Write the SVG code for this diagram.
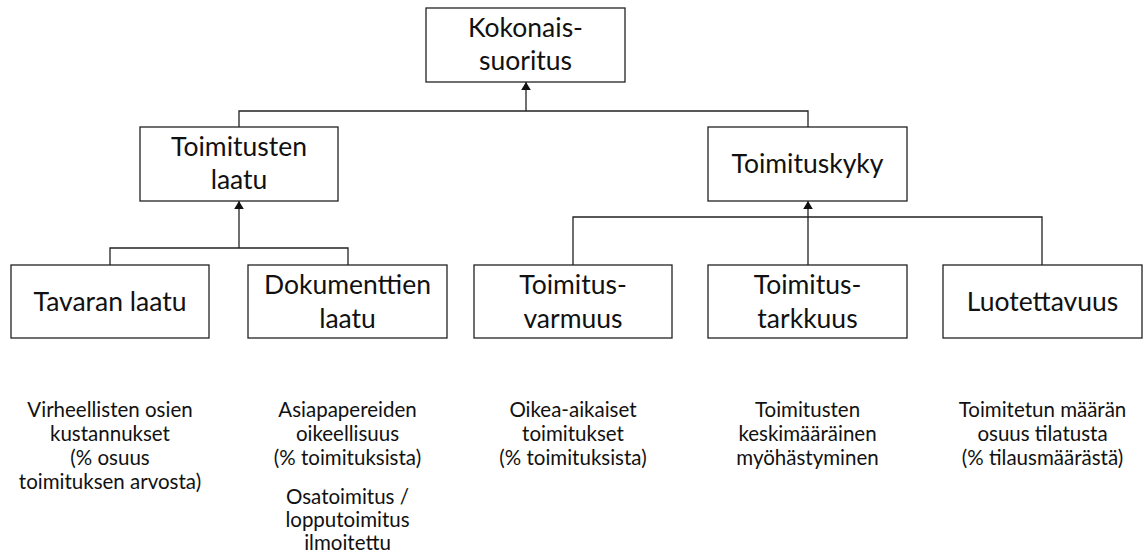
<svg xmlns="http://www.w3.org/2000/svg" width="1143" height="553" viewBox="0 0 1143 553">
  <style>
    .box { fill: #ffffff; stroke: #222222; stroke-width: 1.3; }
    .wire { fill: none; stroke: #222222; stroke-width: 1.3; }
    .lbl { font-family: Lato, "Open Sans", sans-serif; font-size: 26.5px; fill: #111111; text-anchor: middle; }
    .note { font-family: Lato, "Open Sans", sans-serif; font-size: 20.5px; fill: #111111; text-anchor: middle; }
  </style>
  <defs>
    <marker id="tip" viewBox="0 0 10 12" refX="10" refY="6" markerWidth="8" markerHeight="10" markerUnits="userSpaceOnUse" orient="auto">
      <path d="M0,0 L10,6 L0,12 Z" fill="#111111"/>
    </marker>
  </defs>
  <rect width="1143" height="553" fill="#ffffff"/>

  <!-- connectors -->
  <g id="connectors">
    <!-- level 1 -->
    <polyline class="wire" points="239,127 239,111 808,111 808,127"/>
    <line class="wire" x1="526" y1="111" x2="526" y2="82" marker-end="url(#tip)"/>
    <!-- quality branch -->
    <polyline class="wire" points="110,265 110,248 348,248 348,265"/>
    <line class="wire" x1="239" y1="248" x2="239" y2="201" marker-end="url(#tip)"/>
    <!-- delivery capability branch -->
    <polyline class="wire" points="573,265 573,217 1042,217 1042,265"/>
    <line class="wire" x1="808" y1="265" x2="808" y2="201" marker-end="url(#tip)"/>
  </g>

  <g id="kokonaissuoritus">
    <rect class="box" x="426" y="8" width="199" height="74"/>
    <text class="lbl" x="525.5" y="37">Kokonais-</text>
    <text class="lbl" x="525.5" y="70">suoritus</text>
  </g>

  <g id="toimitusten-laatu">
    <rect class="box" x="140" y="127" width="198" height="74"/>
    <text class="lbl" x="239" y="156">Toimitusten</text>
    <text class="lbl" x="239" y="189">laatu</text>
  </g>

  <g id="toimituskyky">
    <rect class="box" x="708" y="127" width="199" height="74"/>
    <text class="lbl" x="807.5" y="173">Toimituskyky</text>
  </g>

  <g id="tavaran-laatu">
    <rect class="box" x="11" y="265" width="198" height="73"/>
    <text class="lbl" x="110" y="311">Tavaran laatu</text>
  </g>

  <g id="dokumenttien-laatu">
    <rect class="box" x="248" y="265" width="199" height="73"/>
    <text class="lbl" x="347.5" y="294">Dokumenttien</text>
    <text class="lbl" x="347.5" y="328">laatu</text>
  </g>

  <g id="toimitusvarmuus">
    <rect class="box" x="474" y="265" width="198" height="73"/>
    <text class="lbl" x="573" y="294">Toimitus-</text>
    <text class="lbl" x="573" y="328">varmuus</text>
  </g>

  <g id="toimitustarkkuus">
    <rect class="box" x="708" y="265" width="199" height="73"/>
    <text class="lbl" x="807.5" y="294">Toimitus-</text>
    <text class="lbl" x="807.5" y="328">tarkkuus</text>
  </g>

  <g id="luotettavuus">
    <rect class="box" x="943" y="265" width="199" height="73"/>
    <text class="lbl" x="1042.5" y="311">Luotettavuus</text>
  </g>

  <!-- measures under each bottom-level node -->
  <g id="mittarit">
    <text class="note" x="110" y="417">Virheellisten osien</text>
    <text class="note" x="110" y="441">kustannukset</text>
    <text class="note" x="110" y="465">(% osuus</text>
    <text class="note" x="110" y="489">toimituksen arvosta)</text>

    <text class="note" x="347.5" y="417">Asiapapereiden</text>
    <text class="note" x="347.5" y="441">oikeellisuus</text>
    <text class="note" x="347.5" y="465">(% toimituksista)</text>
    <text class="note" x="347.5" y="504">Osatoimitus /</text>
    <text class="note" x="347.5" y="527">lopputoimitus</text>
    <text class="note" x="347.5" y="550">ilmoitettu</text>

    <text class="note" x="573" y="417">Oikea-aikaiset</text>
    <text class="note" x="573" y="441">toimitukset</text>
    <text class="note" x="573" y="465">(% toimituksista)</text>

    <text class="note" x="807.5" y="417">Toimitusten</text>
    <text class="note" x="807.5" y="441">keskimääräinen</text>
    <text class="note" x="807.5" y="465">myöhästyminen</text>

    <text class="note" x="1042.5" y="417">Toimitetun määrän</text>
    <text class="note" x="1042.5" y="441">osuus tilatusta</text>
    <text class="note" x="1042.5" y="465">(% tilausmäärästä)</text>
  </g>
</svg>
